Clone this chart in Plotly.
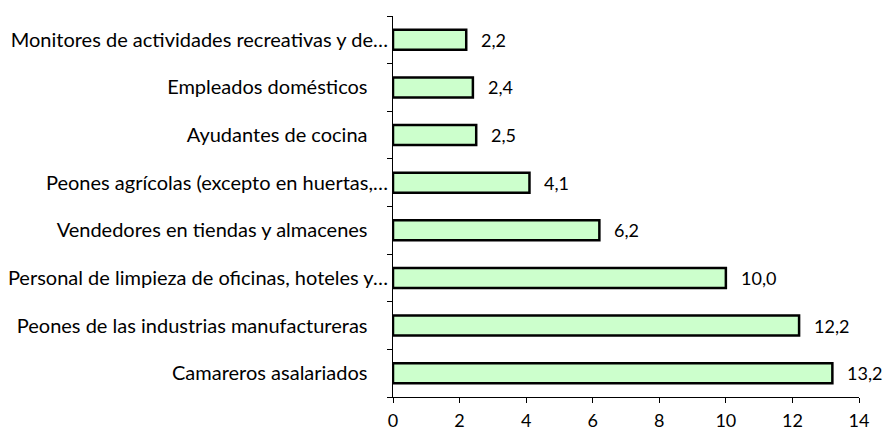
import plotly.graph_objects as go

# Occupations, listed bottom to top as drawn
PAD = "\u00a0" * 4
categories = [
    "Camareros asalariados" + PAD,
    "Peones de las industrias manufactureras" + PAD,
    "Personal de limpieza de oficinas, hoteles y…",
    "Vendedores en tiendas y almacenes" + PAD,
    "Peones agrícolas (excepto en huertas,…",
    "Ayudantes de cocina" + PAD,
    "Empleados domésticos" + PAD,
    "Monitores de actividades recreativas y de…",
]
values = [13.2, 12.2, 10.0, 6.2, 4.1, 2.5, 2.4, 2.2]
x_ticks = [0, 2, 4, 6, 8, 10, 12, 14]

FONT = "Lato"
SIZE = 20
positions = list(range(len(categories)))

fig = go.Figure()
fig.add_trace(go.Bar(
    x=values,
    y=positions,
    orientation="h",
    marker=dict(color="#CCFFCC", line=dict(color="#000000", width=2.5)),
    width=0.42,
    hoverinfo="skip",
))

# Value labels beside each bar, decimal comma
for v, p in zip(values, positions):
    fig.add_annotation(
        x=v, y=p, xref="x", yref="y",
        text=f"{v:.1f}".replace(".", ","),
        showarrow=False, xanchor="left", yanchor="middle", xshift=13,
        font=dict(family=FONT, size=18, color="#000000"),
    )

fig.update_layout(
    width=885, height=433,
    margin=dict(l=393, r=26, t=16, b=36),
    paper_bgcolor="white", plot_bgcolor="white",
    showlegend=False,
    font=dict(family=FONT, size=SIZE, color="#000000"),
    xaxis=dict(
        range=[0, 14], tickvals=x_ticks, ticktext=[str(t) for t in x_ticks],
        showgrid=False, zeroline=False,
        showline=True, linecolor="#000000", linewidth=1,
        ticks="outside", ticklen=5, tickcolor="#000000",
        ticklabelstandoff=2, automargin=False,
        tickfont=dict(size=18),
        fixedrange=True,
    ),
    yaxis=dict(
        range=[-0.5, 7.5], tickvals=positions, ticktext=categories,
        showgrid=False, zeroline=False,
        showline=True, linecolor="#000000", linewidth=1,
        ticks="", ticklen=0, automargin=False,
        minor=dict(ticks="outside", ticklen=5, tickcolor="#000000",
                   tick0=-0.5, dtick=1, showgrid=False),
        fixedrange=True,
    ),
)

fig.write_html("out.html")
